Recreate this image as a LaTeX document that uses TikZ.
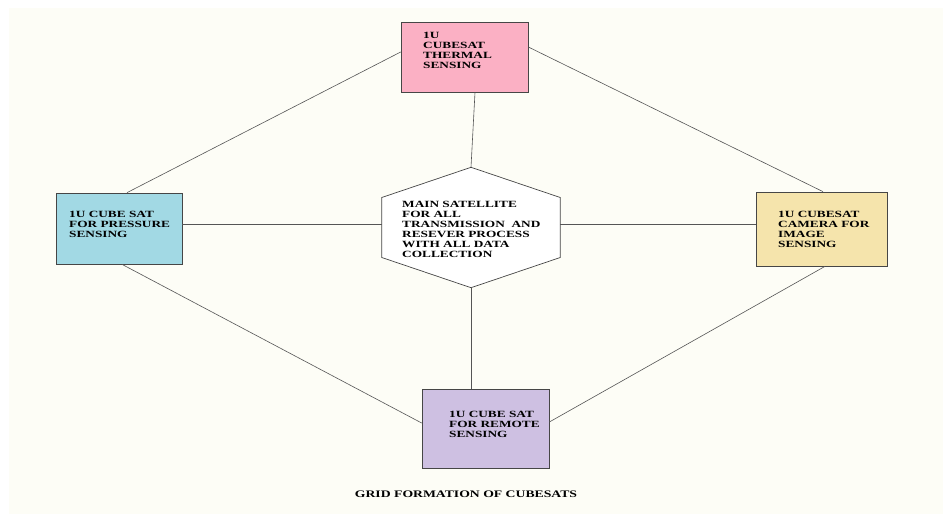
\documentclass[tikz,border=0pt]{standalone}
\usepackage{fontspec}
\setmainfont{Liberation Serif}
\newfontfamily\labfont[FakeStretch=1.4]{Liberation Serif}
\newfontfamily\capfont[FakeStretch=1.37]{Liberation Serif}
\definecolor{bgc}{RGB}{253,253,246}
\definecolor{pinkc}{RGB}{251,176,196}
\definecolor{bluec}{RGB}{162,217,228}
\definecolor{yellowc}{RGB}{245,228,172}
\definecolor{purplec}{RGB}{206,192,226}
\definecolor{edgec}{RGB}{70,70,70}
\definecolor{linec}{RGB}{85,85,85}
\begin{document}
\begin{tikzpicture}[x=1pt,y=-1pt,
  box/.style={draw=edgec, line width=0.7pt, inner sep=0pt},
  txt/.style={inner sep=0pt, align=left, anchor=base west, text=black,
    font=\labfont\bfseries\fontsize{9.5}{10}\selectfont},
  conn/.style={draw=linec, line width=0.6pt}]
\useasboundingbox (0,0) rectangle (943,514);
\fill[white] (0,0) rectangle (943,514);
\fill[bgc] (9,8) rectangle (943,514);

% boxes
\node[box, fill=pinkc, minimum width=127pt, minimum height=70pt] (top) at (464.5,57) {};
\node[box, fill=bluec, minimum width=126pt, minimum height=71pt] (left) at (119,228.5) {};
\node[box, fill=yellowc, minimum width=131pt, minimum height=74pt] (right) at (821.5,229) {};
\node[box, fill=purplec, minimum width=127pt, minimum height=79pt] (bottom) at (485.5,428.5) {};
\node[inner sep=0pt, minimum width=178pt, minimum height=120pt] (hex) at (471,227.5) {};
\draw[edgec, line width=0.7pt, fill=white]
  (hex.north) -- ([yshift=30pt]hex.east) -- ([yshift=-30pt]hex.east)
  -- (hex.south) -- ([yshift=-30pt]hex.west) -- ([yshift=30pt]hex.west) -- cycle;

% connectors
\draw[conn] ([xshift=10.5pt]top.south) -- (hex.north);
\draw[conn] (hex.south) -- (hex.south |- bottom.north);
\draw[conn] ([yshift=4.5pt]left.east) -- ([yshift=3.5pt]hex.west);
\draw[conn] ([yshift=3.5pt]hex.east) -- ([yshift=5pt]right.west);
\draw[conn] ([yshift=5pt]top.west) -- ([xshift=8pt]left.north);
\draw[conn] ([yshift=10pt]top.east) -- ([xshift=1.5pt]right.north);
\draw[conn] ([xshift=3pt]left.south) -- ([yshift=5.5pt]bottom.west);
\draw[conn] ([xshift=3.5pt]right.south) -- ([yshift=6.5pt]bottom.east);

% texts (anchored at the baseline of their last line)
\node[txt] (topT) at (423,68.5) {1U\\CUBESAT\\THERMAL\\SENSING};
\node[txt] (leftT) at (69,237.5) {1U CUBE SAT\\FOR PRESSURE\\SENSING};
\node[txt] (rightT) at (778,247.5) {1U CUBESAT\\CAMERA FOR\\IMAGE\\SENSING};
\node[txt] (bottomT) at (449,437) {1U CUBE SAT\\FOR REMOTE\\SENSING};
\node[txt] (hexT) at (402,257.5) {MAIN SATELLITE\\FOR ALL\\TRANSMISSION\ \ AND\\RESEVER PROCESS\\WITH ALL DATA\\COLLECTION};
\node[inner sep=0pt, anchor=base, text=black,
  font=\capfont\bfseries\fontsize{10}{12}\selectfont] (caption) at (466,497.5)
  {GRID FORMATION OF CUBESATS};
\end{tikzpicture}
\end{document}
